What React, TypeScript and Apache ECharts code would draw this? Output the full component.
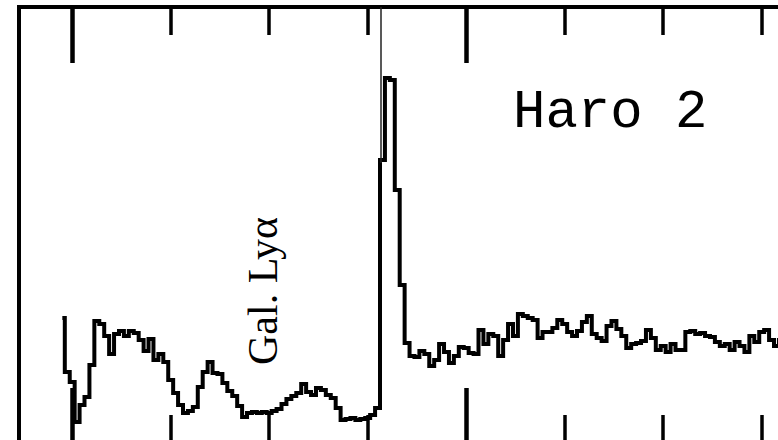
import React, { useEffect, useRef } from "react";
import * as echarts from "echarts";

// Wavelength grid (Å)
const wavelengths: number[] = [
  1199.5, 1199.75, 1200, 1200.25, 1200.5, 1200.75, 1201, 1201.25, 1201.5, 1201.75,
  1202, 1202.25, 1202.5, 1202.75, 1203, 1203.25, 1203.5, 1203.75, 1204, 1204.25,
  1204.5, 1204.75, 1205, 1205.25, 1205.5, 1205.75, 1206, 1206.25, 1206.5, 1206.75,
  1207, 1207.25, 1207.5, 1207.75, 1208, 1208.25, 1208.5, 1208.75, 1209, 1209.25,
  1209.5, 1209.75, 1210, 1210.25, 1210.5, 1210.75, 1211, 1211.25, 1211.5, 1211.75,
  1212, 1212.25, 1212.5, 1212.75, 1213, 1213.25, 1213.5, 1213.75, 1214, 1214.25,
  1214.5, 1214.75, 1215, 1215.25, 1215.5, 1215.75, 1216, 1216.25, 1216.5, 1216.75,
  1217, 1217.25, 1217.5, 1217.75, 1218, 1218.25, 1218.5, 1218.75, 1219, 1219.25,
  1219.5, 1219.75, 1220, 1220.25, 1220.5, 1220.75, 1221, 1221.25, 1221.5, 1221.75,
  1222, 1222.25, 1222.5, 1222.75, 1223, 1223.25, 1223.5, 1223.75, 1224, 1224.25,
  1224.5, 1224.75, 1225, 1225.25, 1225.5, 1225.75, 1226, 1226.25, 1226.5, 1226.75,
  1227, 1227.25, 1227.5, 1227.75, 1228, 1228.25, 1228.5, 1228.75, 1229, 1229.25,
  1229.5, 1229.75, 1230, 1230.25, 1230.5, 1230.75, 1231, 1231.25, 1231.5, 1231.75,
  1232, 1232.25, 1232.5, 1232.75, 1233, 1233.25, 1233.5, 1233.75, 1234, 1234.25,
  1234.5, 1234.75, 1235, 1235.25, 1235.5, 1235.75, 1236, 1236.25, 1236.5, 1236.75,
];

// Flux (arbitrary units)
const flux: number[] = [
  1.25, 0.71, 0.61, 0.21, 0.38, 0.46, 0.78, 1.22, 1.19, 1.07,
  0.89, 1.09, 1.12, 1.07, 1.12, 1.10, 1.03, 0.92, 1.04, 0.83,
  0.89, 0.81, 0.63, 0.50, 0.38, 0.30, 0.32, 0.36, 0.56, 0.71,
  0.81, 0.70, 0.69, 0.60, 0.52, 0.47, 0.37, 0.26, 0.30, 0.31,
  0.30, 0.31, 0.30, 0.32, 0.34, 0.39, 0.44, 0.47, 0.50, 0.59,
  0.51, 0.48, 0.55, 0.53, 0.48, 0.45, 0.35, 0.23, 0.24, 0.25,
  0.23, 0.24, 0.25, 0.28, 0.35, 2.83, 3.65, 3.63, 2.53, 1.58,
  1.00, 0.87, 0.86, 0.92, 0.89, 0.77, 0.83, 0.99, 0.91, 0.80,
  0.87, 0.96, 0.95, 0.90, 0.89, 1.13, 0.99, 1.09, 1.07, 0.87,
  1.03, 1.19, 1.07, 1.29, 1.27, 1.25, 1.23, 1.05, 1.11, 1.11,
  1.15, 1.23, 1.19, 1.11, 1.07, 1.12, 1.21, 1.27, 1.09, 1.05,
  1.02, 1.17, 1.22, 1.14, 1.07, 0.95, 0.99, 1.00, 1.02, 1.13,
  1.05, 0.93, 0.97, 0.91, 0.99, 0.93, 0.93, 1.11, 1.12, 1.09,
  1.10, 1.07, 1.06, 1.01, 0.97, 0.99, 0.93, 1.01, 0.97, 0.91,
  1.07, 1.01, 1.11, 1.13, 1.03, 0.97, 1.03, 1.05, 0.98, 1.08,
];

const majorTicks: number[] = [1200, 1220];
const minorTicks: number[] = [1205, 1210, 1215, 1225, 1230, 1235];
const galLyaWavelength = 1215.67;

const X_MIN = 1197.3;
const X_MAX = 1237.3;
const Y_MIN = 0;
const Y_MAX = 4.36;

function tickAxis(position: "top" | "bottom", values: number[], length: number, width: number) {
  return {
    type: "value",
    position,
    min: X_MIN,
    max: X_MAX,
    axisLine: { show: false },
    splitLine: { show: false },
    axisLabel: { show: false },
    axisTick: {
      show: true,
      inside: true,
      length,
      customValues: values,
      lineStyle: { color: "#000", width },
    },
  };
}

export default function App() {
  const ref = useRef<HTMLDivElement>(null);

  useEffect(() => {
    if (!ref.current) return;
    const chart = echarts.init(ref.current, undefined, { renderer: "svg" });
    const data = wavelengths.map((w, i) => [w, flux[i]]);

    chart.setOption({
      animation: false,
      backgroundColor: "#ffffff",
      grid: {
        left: 19,
        top: 7,
        width: 788,
        height: 436,
        show: true,
        borderColor: "#000",
        borderWidth: 4,
        backgroundColor: "transparent",
        containLabel: false,
        outerBoundsMode: "none",
      },
      xAxis: [
        tickAxis("bottom", majorTicks, 55, 4.5),
        tickAxis("bottom", minorTicks, 28, 3.5),
        tickAxis("top", majorTicks, 56, 4.5),
        tickAxis("top", minorTicks, 28, 3.5),
      ],
      yAxis: {
        type: "value",
        min: Y_MIN,
        max: Y_MAX,
        show: false,
      },
      series: [
        {
          type: "line",
          xAxisIndex: 0,
          data,
          step: "middle",
          showSymbol: false,
          symbol: "none",
          lineStyle: { color: "#000", width: 4, join: "miter" },
          markLine: {
            silent: true,
            symbol: "none",
            label: { show: false },
            lineStyle: { color: "#222", width: 1.5, type: "solid" },
            data: [
              [
                { coord: [galLyaWavelength, Y_MAX] },
                { coord: [galLyaWavelength, 2.8] },
              ],
            ],
          },
        },
      ],
      graphic: [
        {
          type: "text",
          x: 513,
          y: 112,
          z: 10,
          style: {
            text: "Haro 2",
            fontFamily: "Liberation Mono",
            fontSize: 54,
            fill: "#000",
            align: "left",
            verticalAlign: "middle",
          },
        },
        {
          type: "text",
          x: 263,
          y: 291,
          rotation: Math.PI / 2,
          z: 10,
          style: {
            text: "Gal. Lyα",
            fontFamily: "Liberation Serif",
            fontSize: 42,
            fill: "#000",
            align: "center",
            verticalAlign: "middle",
          },
        },
      ],
    });

    return () => chart.dispose();
  }, []);

  return (
    <div
      ref={ref}
      style={{ position: "fixed", left: 0, top: 0, width: 778, height: 440, background: "#fff" }}
    />
  );
}
